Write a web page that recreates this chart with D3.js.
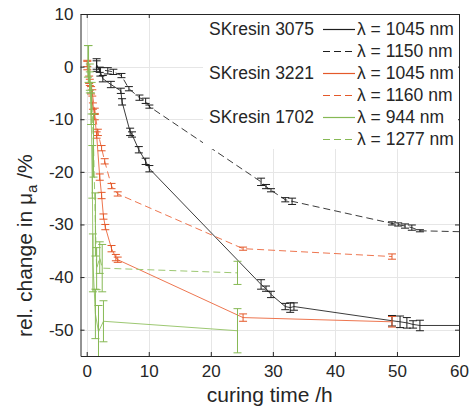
<!DOCTYPE html>
<html><head><meta charset="utf-8">
<script src="https://cdn.jsdelivr.net/npm/d3@7"></script>
<style>body{margin:0;background:#fff}svg{display:block;font-family:"Liberation Sans",Arial,sans-serif}</style>
</head><body><svg id="c" width="475" height="413"></svg>
<script>
// ---- data ----
const xTicks = [0, 10, 20, 30, 40, 50, 60];
const yTicks = [-50, -40, -30, -20, -10, 0, 10];

const t3075a = [1.6, 2.2, 2.6, 3.9, 5.5, 5.7, 7.0, 7.3, 8.4, 9.5, 10.1, 28.1, 28.9, 29.7, 32.0, 32.8, 33.4, 49.2, 50.5, 51.6, 52.6, 53.7, 61];
const v3075a = [0.3, -1.0, -2.3, -3.4, -4.6, -6.7, -12.4, -12.9, -15.8, -18.0, -19.4, -41.4, -42.2, -43.3, -45.6, -45.8, -45.6, -48.3, -48.5, -48.7, -49.0, -49.2, -49.2];
const e3075a = [1.2, 0.8, 0.6, 0.6, 0.5, 0.6, 0.7, 0.5, 0.6, 0.6, 0.6, 0.9, 0.5, 0.6, 0.6, 0.9, 0.7, 1.0, 1.1, 1.0, 0.7, 1.0, null];

const t3075b = [1.6, 2.1, 3.4, 4.3, 5.6, 6.8, 8.5, 9.5, 10.1, 28.1, 28.9, 29.7, 32.0, 33.1, 49.2, 50.2, 51.3, 52.4, 53.7, 61];
const v3075b = [0.3, -0.6, -0.8, -1.0, -1.7, -4.2, -5.9, -6.5, -7.6, -21.9, -22.8, -23.5, -25.3, -25.6, -29.8, -30.0, -30.3, -30.6, -31.2, -31.4];
const e3075b = [0.8, 0.5, 0.6, 0.5, 0.4, 0.4, 0.5, 0.5, 0.3, 0.7, 0.4, 0.3, 0.4, 0.6, 0.3, 0.3, 0.4, 0.5, 0.2, null];

const t3221a = [0.1, 0.4, 0.7, 1.0, 1.3, 1.6, 2.1, 2.4, 2.7, 3.0, 4.0, 4.7, 5.0, 25.2, 49.2];
const v3221a = [0.2, -2.5, -4.5, -7.5, -9.5, -13.0, -21.0, -24.5, -28.5, -30.5, -34.6, -36.3, -36.7, -47.7, -48.5];
const e3221a = [0.8, 0.7, 0.7, 0.6, 0.6, 0.6, 0.6, 0.6, 0.5, 0.5, 0.6, 0.6, 0.5, 0.7, 1.0];

const t3221b = [0.1, 0.5, 0.9, 1.3, 1.8, 2.4, 2.9, 4.0, 5.0, 25.2, 49.2];
const v3221b = [0.6, -3.0, -5.0, -8.5, -12.5, -15.5, -18.0, -22.7, -24.2, -34.6, -36.1];
const e3221b = [0.6, 0.6, 0.6, 0.6, 0.6, 0.5, 0.5, 0.5, 0.4, 0.3, 0.5];

const t1702a = [0.3, 0.5, 0.7, 0.9, 1.0, 1.4, 1.9, 2.7, 24.3];
const v1702a = [0.5, -3.0, -8.0, -20.0, -37.3, -47.0, -50.4, -48.4, -50.2];
const e1702a = [3.5, 2.0, 3.0, 5.0, 5.5, 4.7, 5.0, 3.9, 4.2];

const t1702b = [0.2, 0.5, 0.8, 1.1, 1.4, 1.6, 2.1, 2.5, 24.3];
const v1702b = [1.0, -2.0, -6.0, -15.0, -30.0, -38.4, -36.3, -38.3, -39.2];
const e1702b = [3.0, 2.5, 3.0, 6.0, 6.0, 4.0, 3.0, 4.5, 2.2];

const groups = ["SKresin 3075", "", "SKresin 3221", "", "SKresin 1702", ""];
const legendLabels = ["\u03bb = 1045 nm", "\u03bb = 1150 nm", "\u03bb = 1045 nm", "\u03bb = 1160 nm", "\u03bb = 944 nm", "\u03bb = 1277 nm"];

const series = [
  {t: t3075a, v: v3075a, e: e3075a, color: "#3c3c3c", bar: "#1e1e1e", dash: null},
  {t: t3075b, v: v3075b, e: e3075b, color: "#3c3c3c", bar: "#1e1e1e", dash: "7,4"},
  {t: t3221a, v: v3221a, e: e3221a, color: "#ee7650", bar: "#e4592a", dash: null},
  {t: t3221b, v: v3221b, e: e3221b, color: "#ee7650", bar: "#e4592a", dash: "7,4"},
  {t: t1702a, v: v1702a, e: e1702a, color: "#9dc872", bar: "#86b954", dash: null},
  {t: t1702b, v: v1702b, e: e1702b, color: "#9dc872", bar: "#86b954", dash: "7,4"}
];

// ---- layout ----
const L = 80.5, R = 459, T = 14, B = 356;
const svg = d3.select("#c");
const x = d3.scaleLinear().domain([-1, 60]).range([L, R]);
const y = d3.scaleLinear().domain([-55, 10]).range([B, T]);
const txt = "#262626";

svg.append("rect").attr("x", L).attr("y", T).attr("width", R - L).attr("height", B - T).attr("fill", "#fff");

// grid
const grid = svg.append("g").attr("stroke", "#e6e6e6").attr("stroke-width", 1);
xTicks.forEach(d => grid.append("line").attr("x1", Math.round(x(d)) + 0.5).attr("x2", Math.round(x(d)) + 0.5).attr("y1", T).attr("y2", B));
yTicks.forEach(d => grid.append("line").attr("y1", Math.round(y(d)) + 0.5).attr("y2", Math.round(y(d)) + 0.5).attr("x1", L).attr("x2", R));

svg.append("clipPath").attr("id", "pc").append("rect").attr("x", L).attr("y", T).attr("width", R - L).attr("height", B - T);
const plot = svg.append("g").attr("clip-path", "url(#pc)");

series.forEach(s => {
  const pts = s.t.map((t, i) => ({t, v: s.v[i], e: s.e[i]}));
  const g = plot.append("g");
  g.append("path").datum(pts)
    .attr("d", d3.line().x(d => x(d.t)).y(d => y(d.v)))
    .attr("fill", "none").attr("stroke", s.color).attr("stroke-width", 1)
    .attr("stroke-dasharray", s.dash);
  pts.filter(d => d.e != null).forEach(d => {
    const cx = x(d.t), y1 = y(d.v + d.e), y2 = y(d.v - d.e), w = 4;
    const b = g.append("g").attr("stroke", s.bar).attr("stroke-width", 1);
    b.append("line").attr("x1", cx).attr("x2", cx).attr("y1", y1).attr("y2", y2);
    b.append("line").attr("x1", cx - w).attr("x2", cx + w).attr("y1", y1).attr("y2", y1);
    b.append("line").attr("x1", cx - w).attr("x2", cx + w).attr("y1", y2).attr("y2", y2);
  });
});

// axes
const fmt = d => String(d);
const ax = svg.append("g").attr("transform", `translate(0,${B})`)
  .call(d3.axisBottom(x).tickValues(xTicks).tickFormat(fmt).tickSizeInner(-4).tickSizeOuter(0).tickPadding(15));
const ay = svg.append("g").attr("transform", `translate(${L},0)`)
  .call(d3.axisLeft(y).tickValues(yTicks).tickFormat(fmt).tickSizeInner(-4).tickSizeOuter(0).tickPadding(7));
const ax2 = svg.append("g").attr("transform", `translate(0,${T})`)
  .call(d3.axisTop(x).tickValues(xTicks).tickFormat("").tickSizeInner(-4).tickSizeOuter(0));
const ay2 = svg.append("g").attr("transform", `translate(${R},0)`)
  .call(d3.axisRight(y).tickValues(yTicks).tickFormat("").tickSizeInner(-4).tickSizeOuter(0));
[ax, ay, ax2, ay2].forEach(a => {
  a.selectAll("path").attr("stroke", txt);
  a.selectAll("line").attr("stroke", txt);
  a.selectAll("text").attr("fill", txt).attr("font-size", 17).attr("font-family", "Liberation Sans, Arial, sans-serif");
});
ax.selectAll(".tick text").attr("dy", "0.35em");

// legend
const lg = svg.append("g");
lg.append("rect").attr("x", 203).attr("y", 15).attr("width", 255).attr("height", 134).attr("fill", "#fff");
const rowY = [29, 51, 73, 95, 117, 139];
series.forEach((s, i) => {
  const yy = rowY[i];
  if (groups[i]) lg.append("text").attr("x", 209).attr("y", yy).attr("dy", "0.35em").attr("font-size", 17.5).attr("fill", txt).text(groups[i]);
  lg.append("line").attr("x1", 323).attr("x2", 355).attr("y1", yy + 0.5).attr("y2", yy + 0.5)
    .attr("stroke", s.bar).attr("stroke-width", 1.2).attr("stroke-dasharray", s.dash);
  lg.append("text").attr("x", 357).attr("y", yy).attr("dy", "0.35em").attr("font-size", 17.5).attr("fill", txt).text(legendLabels[i]);
});

// axis labels
svg.append("text").attr("x", (L + R) / 2).attr("y", 402).attr("text-anchor", "middle")
  .attr("font-size", 21).attr("fill", txt).text("curing time /h");
const yl = svg.append("text").attr("transform", "translate(32,337) rotate(-90)")
  .attr("text-anchor", "start").attr("font-size", 21).attr("fill", txt);
yl.append("tspan").text("rel. change in \u03bc");
yl.append("tspan").attr("font-size", 15).attr("dy", 5).text("a");
yl.append("tspan").attr("dy", -5).text(" /%");
</script></body></html>
